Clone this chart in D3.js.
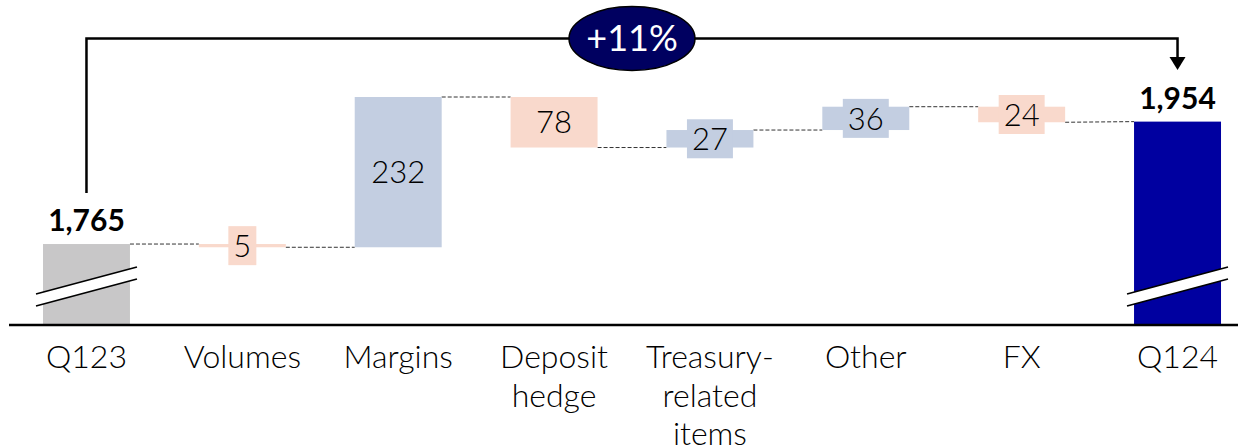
<!doctype html>
<html>
<head>
<meta charset="utf-8"/>
<title>NII bridge Q123 to Q124</title>
<script src="https://d3js.org/d3.v7.min.js"></script>
<style>
  body { margin:0; background:#fff; }
  svg text { font-family: Lato, "Open Sans", sans-serif; }
  .thin { font-weight: 300; }
</style>
</head>
<body>
<script>
// chart data
const categories  = [["Q123"], ["Volumes"], ["Margins"], ["Deposit","hedge"],
                     ["Treasury-","related","items"], ["Other"], ["FX"], ["Q124"]];
const values      = [1765, -5, 232, -78, 27, 36, -24, 1954];
const kinds       = ["total","delta","delta","delta","delta","delta","delta","total"];
const valueLabels = ["1,765","5","232","78","27","36","24","1,954"];
const growthLabel = "+11%";

const W = 1238, H = 448;
const axisY = 325;

const svg = d3.select('body').append('svg').attr('width', W).attr('height', H);

const x = d3.scaleBand().domain(d3.range(categories.length))
  .range([8.7, 1255.3]).paddingInner(0.442).paddingOuter(0.22);

// broken axis: bottom of plot sits at 1640
const y = d3.scaleLinear().domain([1640, 1992]).range([axisY, 97]);

// build waterfall segments
let run = 0;
const bars = values.map((v,i)=>{
  let y0, y1;
  if (kinds[i] === "total") { y0 = 1640; y1 = v; run = v; }
  else { y0 = run; y1 = run + v; run = y1; }
  return { i, v, kind: kinds[i], lo: Math.min(y0,y1), hi: Math.max(y0,y1), end: y1 };
});

const fillOf = d => d.kind === "total"
  ? (d.i === 0 ? "#c8c7c8" : "#0000a0")
  : (d.v > 0 ? "#c3cee1" : "#f9d9cc");

// connectors
for (let i=0; i<bars.length-1; i++) {
  const yy = y(bars[i].end);
  svg.append('line')
    .attr('x1', x(i) + x.bandwidth()).attr('x2', x(i+1))
    .attr('y1', yy).attr('y2', y(bars[i+1].kind === "total" ? bars[i+1].hi : bars[i].end))
    .attr('stroke', '#333').attr('stroke-width', 1).attr('stroke-dasharray', '4,2');
}

// bars
svg.selectAll('.bar').data(bars).enter().append('rect')
  .attr('class','bar')
  .attr('x', d=>x(d.i)).attr('width', x.bandwidth())
  .attr('y', d=>y(d.hi)).attr('height', d=>Math.max(y(d.lo)-y(d.hi), 1))
  .attr('fill', fillOf);

// axis break marks on total bars
bars.filter(d=>d.kind==="total").forEach(d=>{
  const xa = x(d.i) - 7, xb = x(d.i) + x.bandwidth() + 7;
  const g = svg.append('g');
  g.append('polygon')
    .attr('points', `${xa},294 ${xb},267 ${xb},279 ${xa},306`)
    .attr('fill', '#fff');
  [[294,267],[306,279]].forEach(p=>{
    g.append('line').attr('x1', xa).attr('y1', p[0]).attr('x2', xb).attr('y2', p[1])
      .attr('stroke', '#000').attr('stroke-width', 1.6);
  });
});

// axis line
svg.append('line').attr('x1', 9).attr('x2', W).attr('y1', axisY).attr('y2', axisY)
  .attr('stroke', '#000').attr('stroke-width', 2.5);

// value labels
bars.forEach(d=>{
  const cx = x(d.i) + x.bandwidth()/2;
  if (d.kind === "total") {
    svg.append('text').attr('x', cx).attr('y', y(d.hi) - 13)
      .attr('text-anchor','middle').attr('font-size', 30).attr('font-weight','bold')
      .attr('fill','#000').text(valueLabels[d.i]);
    return;
  }
  const cy = (y(d.hi) + y(d.lo))/2;
  const g = svg.append('g');
  const rect = g.append('rect').attr('fill', fillOf(d));
  const t = g.append('text').attr('class','thin').attr('x', cx).attr('y', cy).attr('dy','0.36em')
    .attr('text-anchor','middle').attr('font-size', 31).attr('fill','#000')
    .text(valueLabels[d.i]);
  if (y(d.lo) - y(d.hi) < 39) {
    const tw = t.node().getComputedTextLength();
    rect.attr('x', cx - tw/2 - 5).attr('width', tw + 10)
        .attr('y', cy - 19.5).attr('height', 39);
  }
});

// category labels
categories.forEach((lines,i)=>{
  const t = svg.append('text').attr('class','thin').attr('text-anchor','middle')
    .attr('font-size', 32).attr('fill','#000');
  lines.forEach((s,j)=>{
    t.append('tspan').attr('x', x(i) + x.bandwidth()/2).attr('y', 368 + j*38.5).text(s);
  });
});

// growth bracket
const xs = x(0) + x.bandwidth()/2, xe = x(7) + x.bandwidth()/2;
svg.append('path')
  .attr('d', `M${xs},193 V38.5 H${xe} V58`)
  .attr('fill','none').attr('stroke','#000').attr('stroke-width', 2.5);
svg.append('path')
  .attr('d', `M${xe-8},57 L${xe+8},57 L${xe},70 Z`).attr('fill','#000');

const ex = (xs + xe)/2;
svg.append('ellipse').attr('cx', ex).attr('cy', 38.5).attr('rx', 63).attr('ry', 32)
  .attr('fill', '#000060').attr('stroke','#000').attr('stroke-width', 1.5);
svg.append('text').attr('x', ex).attr('y', 38.5).attr('dy','0.36em')
  .attr('text-anchor','middle').attr('font-size', 36).attr('fill','#fff').text(growthLabel);
</script>
</body>
</html>
